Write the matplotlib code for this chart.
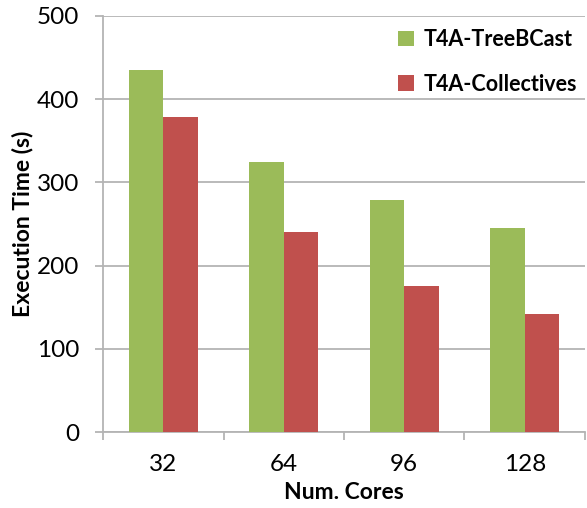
import numpy as np
import matplotlib.pyplot as plt

plt.rcParams['font.family'] = ['Lato', 'DejaVu Sans']

cores = ['32', '64', '96', '128']
treebcast = [435, 324, 279, 245]
collectives = [378, 240, 176, 142]

fig = plt.figure(figsize=(5.87, 5.08), dpi=100)
ax = fig.add_axes([0.1755, 0.1496, 0.821, 0.819])

x = np.arange(len(cores))
w = 1 / 3.5
ax.bar(x - w / 2, treebcast, w, color='#9BBB59', label='T4A-TreeBCast', zorder=3)
ax.bar(x + w / 2, collectives, w, color='#C0504D', label='T4A-Collectives', zorder=3)

ax.set_xlim(-0.5, len(cores) - 0.5)
ax.set_ylim(0, 500)
ax.set_yticks(np.arange(0, 501, 100))
ax.set_xticks(x)
ax.set_xticklabels(cores)
ax.set_xticks(np.arange(-0.5, len(cores)), minor=True)

grid_col = '#B4B4B4'
ax.yaxis.grid(True, color=grid_col, linewidth=1.3, zorder=0)
for s in ['top', 'right']:
    ax.spines[s].set_visible(False)
for s in ['left', 'bottom']:
    ax.spines[s].set_color(grid_col)
    ax.spines[s].set_linewidth(1.3)

ax.tick_params(axis='y', length=6, color=grid_col, width=1.3, pad=11, labelsize=17.5)
ax.tick_params(axis='x', which='major', length=0, pad=16, labelsize=17.5)
ax.tick_params(axis='x', which='minor', length=6, color=grid_col, width=1.3)

ax.set_xlabel('Num. Cores', fontsize=16.5, fontweight='bold', labelpad=5)
ax.set_ylabel('Execution Time (s)', fontsize=16.5, fontweight='bold', labelpad=3)

leg = ax.legend(loc='upper right', frameon=False, prop={'weight': 'bold', 'size': 15.5},
                handlelength=0.75, handleheight=0.75, handletextpad=0.45, labelspacing=1.1,
                bbox_to_anchor=(1.025, 1.015))

plt.savefig('out.png', dpi=100)
